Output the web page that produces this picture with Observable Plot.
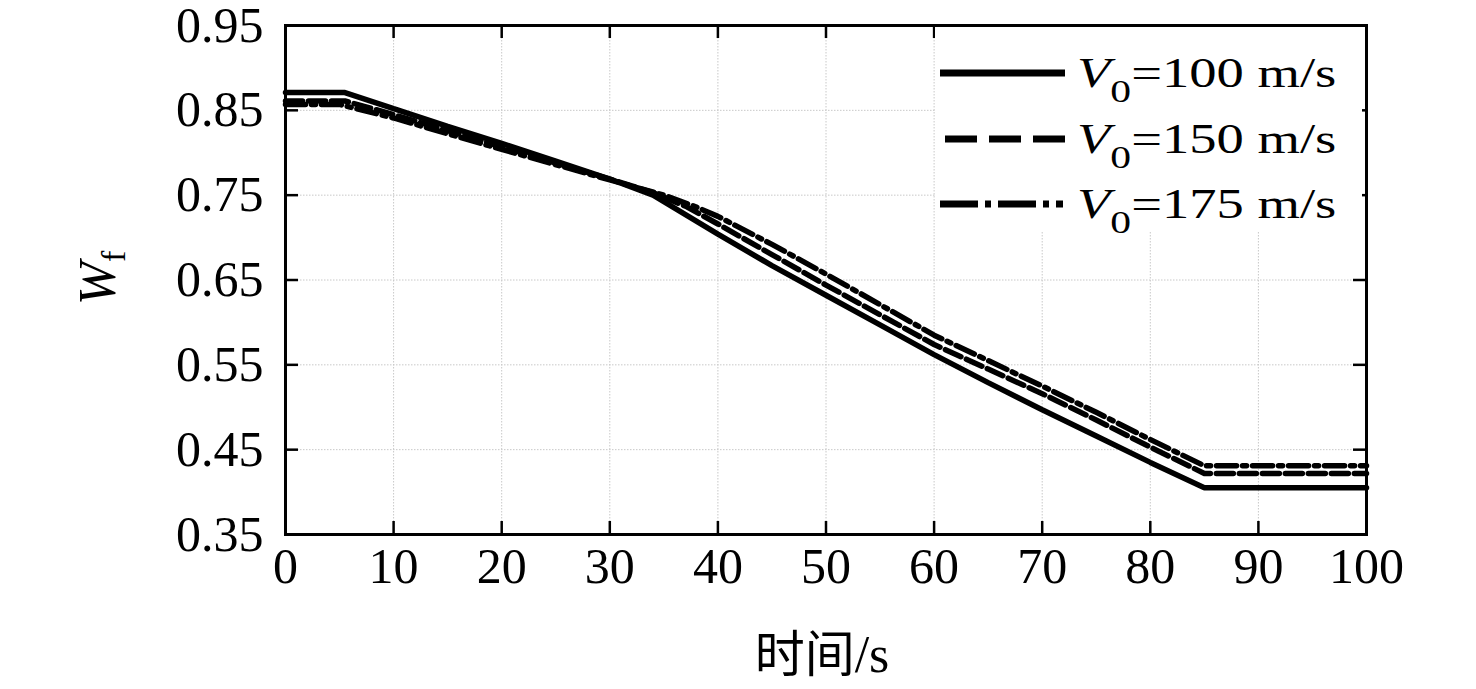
<!DOCTYPE html>
<html>
<head>
<meta charset="utf-8">
<script src="https://cdn.jsdelivr.net/npm/d3@7"></script>
<script src="https://cdn.jsdelivr.net/npm/@observablehq/plot@0.6"></script>
<style>
  html, body { margin: 0; padding: 0; background: #fff; }
  #chart { position: relative; width: 1476px; height: 689px; }
</style>
</head>
<body>
<div id="chart"></div>
<script>
// ---- data ----
const t100 = [0, 5.5, 10, 15, 20, 25, 30, 34, 37, 40, 45, 50, 55, 60, 65, 70, 75, 80, 85, 100];
const w100 = [0.871, 0.871, 0.852, 0.831, 0.811, 0.790, 0.769, 0.750, 0.727, 0.704, 0.667, 0.632, 0.597, 0.562, 0.529, 0.497, 0.466, 0.435, 0.405, 0.405];

const t150 = [0, 5.5, 10, 20, 30, 34, 37, 40, 45, 50, 55, 60, 65, 70, 75, 80, 85, 100];
const w150 = [0.861, 0.861, 0.845, 0.807, 0.769, 0.753, 0.737, 0.716, 0.680, 0.644, 0.609, 0.574, 0.545, 0.516, 0.485, 0.453, 0.422, 0.422];

const t175 = [0, 5, 10, 20, 30, 35, 38, 40, 45, 50, 55, 60, 65, 70, 75, 80, 85, 100];
const w175 = [0.857, 0.857, 0.841, 0.804, 0.768, 0.750, 0.736, 0.725, 0.692, 0.657, 0.621, 0.585, 0.555, 0.525, 0.494, 0.462, 0.431, 0.431];

const seriesNames = ["100", "150", "175"];
const xTicks = [0, 10, 20, 30, 40, 50, 60, 70, 80, 90, 100];
const yTicks = [0.35, 0.45, 0.55, 0.65, 0.75, 0.85, 0.95];
const yTickLabels = ["0.35", "0.45", "0.55", "0.65", "0.75", "0.85", "0.95"];

// ---- layout ----
const W = 1476, H = 689;
const mL = 285, mR = 110, mT = 25, mB = 155;
const innerW = W - mL - mR, innerH = H - mT - mB;
const tickLen = 13;
const serif = "'Liberation Serif', 'DejaVu Serif', serif";

const toRows = (ts, ws) => ts.map((t, i) => ({t, w: ws[i]}));
const d100 = toRows(t100, w100), d150 = toRows(t150, w150), d175 = toRows(t175, w175);

const gridStyle = {stroke: "#c8c8c8", strokeOpacity: 1, strokeWidth: 1, strokeDasharray: "1.5,1.5"};
const tickStyle = {stroke: "#000", strokeWidth: 2.5};

const plot = Plot.plot({
  width: W, height: H,
  marginLeft: mL, marginRight: mR, marginTop: mT, marginBottom: mB,
  style: {fontFamily: serif, fontSize: "50px", color: "#000", background: "#fff", overflow: "visible"},
  x: {domain: [0, 100]},
  y: {domain: [0.35, 0.95]},
  marks: [
    Plot.gridX(xTicks.slice(1, -1), gridStyle),
    Plot.gridY(yTicks.slice(1, -1), gridStyle),
    // inward ticks (bottom, top, left, right)
    Plot.tickX(xTicks, {x: d => d, insetTop: innerH - tickLen, ...tickStyle}),
    Plot.tickX(xTicks, {x: d => d, insetBottom: innerH - tickLen, ...tickStyle}),
    Plot.tickY(yTicks, {y: d => d, insetRight: innerW - tickLen, ...tickStyle}),
    Plot.tickY(yTicks, {y: d => d, insetLeft: innerW - tickLen, ...tickStyle}),
    Plot.line(d100, {x: "t", y: "w", stroke: "#000", strokeWidth: 5.5, strokeLinejoin: "miter"}),
    Plot.line(d150, {x: "t", y: "w", stroke: "#000", strokeWidth: 5.5, strokeDasharray: "17,6"}),
    Plot.line(d175, {x: "t", y: "w", stroke: "#000", strokeWidth: 5.5, strokeDasharray: "20,6,4,6"}),
    Plot.frame({stroke: "#000", strokeWidth: 3}),
    Plot.axisX(xTicks, {tickSize: 0, tickPadding: 13, fontSize: 50, label: null}),
    Plot.axisY(yTicks, {tickSize: 0, tickPadding: 22, fontSize: 50, label: null,
      tickFormat: (d) => yTickLabels[yTicks.indexOf(d)]})
  ]
});

document.getElementById("chart").appendChild(plot);

// ---- axis titles and legend (text kept as real SVG text) ----
const svg = d3.select(plot);

// y title: W_f rotated
const yt = svg.append("text")
  .attr("transform", `translate(${115},${278}) rotate(-90)`)
  .attr("text-anchor", "middle")
  .attr("font-family", serif)
  .attr("font-size", 52)
  .attr("fill", "#000");
yt.append("tspan").attr("font-style", "italic").text("W");
yt.append("tspan").attr("font-size", 34).attr("dy", 10).text("f");

// x title
const xt = svg.append("text")
  .attr("x", 822).attr("y", 672)
  .attr("text-anchor", "middle")
  .attr("font-size", 52)
  .attr("fill", "#000");
xt.append("tspan").attr("font-family", "'Noto Sans CJK SC', sans-serif").attr("font-size", 50).text("时间");
xt.append("tspan").attr("font-family", serif).text("/s");

// legend
const lg = svg.append("g").attr("text-anchor", "start");
lg.append("rect").attr("x", 935).attr("y", mT + 2).attr("width", 427).attr("height", 205).attr("fill", "#fff");
const legendItems = [
  {name: seriesNames[0], y: 73, dash: null, x1: 940, x2: 1065},
  {name: seriesNames[1], y: 139, dash: "32,12", x1: 945, x2: 1065},
  {name: seriesNames[2], y: 204, dash: "38,7,6,7", x1: 940, x2: 1063}
];
legendItems.forEach(it => {
  lg.append("line")
    .attr("x1", it.x1).attr("x2", it.x2).attr("y1", it.y).attr("y2", it.y)
    .attr("stroke", "#000").attr("stroke-width", 7)
    .attr("stroke-dasharray", it.dash);
  const tx = lg.append("text")
    .attr("transform", `translate(1077,${it.y + 14}) scale(1.3,1)`)
    .attr("text-anchor", "start")
    .attr("font-family", serif)
    .attr("font-size", 42)
    .attr("fill", "#000");
  tx.append("tspan").attr("font-style", "italic").text("V");
  tx.append("tspan").attr("font-size", 32).attr("dy", 15).text("0");
  tx.append("tspan").attr("dy", -15).text(`=${it.name} m/s`);
});
</script>
</body>
</html>
